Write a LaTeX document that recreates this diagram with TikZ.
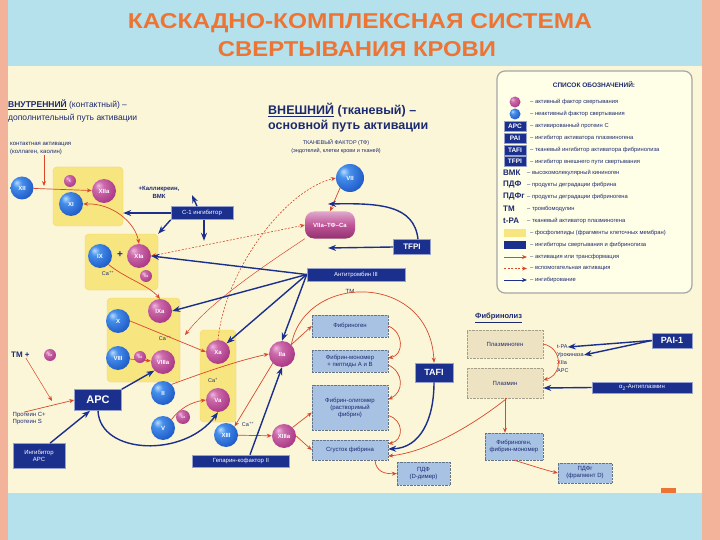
\documentclass[tikz,border=0pt]{standalone}
\usepackage{fontspec}
\setmainfont{Liberation Sans}
\usetikzlibrary{arrows.meta}
\definecolor{navy}{HTML}{1B2F8C}
\definecolor{navytxt}{HTML}{1C2A70}
\definecolor{actc}{HTML}{B8408C}
\definecolor{inactc}{HTML}{2A6FD6}
\definecolor{redl}{HTML}{D9472B}
\definecolor{ylw}{HTML}{F7E680}
\definecolor{fibb}{HTML}{A7C2E3}
\definecolor{plb}{HTML}{EDE3C3}
\definecolor{panel}{HTML}{FBF6D8}
\definecolor{skyb}{HTML}{B4E1EC}
\definecolor{salm}{HTML}{F2B39A}
\definecolor{ttl}{HTML}{EE7434}
\pgfdeclareradialshading{mball}{\pgfpoint{-12bp}{12bp}}{rgb(0bp)=(0.93,0.72,0.87);rgb(10bp)=(0.80,0.42,0.67);rgb(30bp)=(0.68,0.24,0.54);rgb(52bp)=(0.48,0.12,0.37);rgb(70bp)=(0.45,0.10,0.35)}
\pgfdeclareradialshading{bball}{\pgfpoint{-12bp}{12bp}}{rgb(0bp)=(0.72,0.86,1.0);rgb(10bp)=(0.27,0.56,0.92);rgb(30bp)=(0.14,0.38,0.80);rgb(52bp)=(0.07,0.21,0.52);rgb(70bp)=(0.06,0.19,0.48)}
\begin{document}
\begin{tikzpicture}[x=1pt,y=-1pt,
  every node/.style={text=navytxt},
  act/.style={circle, shading=mball, minimum size=24pt, inner sep=0pt, text=white, font=\fontsize{6}{6}\selectfont\bfseries},
  inact/.style={circle, shading=bball, minimum size=24pt, inner sep=0pt, text=white, font=\fontsize{6}{6}\selectfont\bfseries},
  sact/.style={act, minimum size=12pt, font=\fontsize{3.8}{4}\selectfont},
  ibox/.style={rectangle, draw=navy!45!white, line width=0.6pt, fill=navy, text=white, font=\fontsize{6}{7}\selectfont, inner sep=1pt, align=center},
  fbox/.style={rectangle, draw=fibb!60!black, densely dotted, fill=fibb, text=navytxt, font=\fontsize{6}{7}\selectfont, inner sep=1pt, align=center},
  pbox/.style={rectangle, draw=plb!70!black, densely dotted, fill=plb, text=navytxt, font=\fontsize{6}{7}\selectfont, inner sep=1pt, align=center},
  ybox/.style={rectangle, fill=ylw, draw=ylw!80!orange, rounded corners=4pt, inner sep=0pt},
  ra/.style={draw=redl, line width=0.7pt, -{Stealth[length=5pt,width=4pt]}},
  rab/.style={draw=redl, line width=0.7pt, {Stealth[length=5pt,width=4pt]}-{Stealth[length=5pt,width=4pt]}},
  rd/.style={draw=redl, line width=0.6pt, dash pattern=on 2pt off 1.5pt},
  na/.style={draw=navy, line width=1.4pt, -{Stealth[length=8pt,width=6pt]}},
  lbl/.style={font=\fontsize{6}{7}\selectfont, inner sep=0.5pt, align=center},
  legt/.style={anchor=west, font=\fontsize{5.8}{6}\selectfont, inner sep=0pt},
  legab/.style={anchor=west, font=\bfseries\fontsize{8}{8}\selectfont, inner sep=0pt},
  legbox/.style={ibox, minimum width=22pt, minimum height=10pt, font=\bfseries\fontsize{6.5}{7}\selectfont},
  ca/.style={font=\fontsize{5.5}{6}\selectfont, inner sep=0pt}
]
\useasboundingbox (0,0) rectangle (720,540);
\path[fill=salm] (0,0) rectangle (720,540);
\path[fill=skyb] (8,0) rectangle (702,540);
\path[fill=panel] (8,66) rectangle (702,493);
\path[fill=ttl] (661,488) rectangle (676,493);

% title
\node[text=ttl] (t1) at (360,23) {\resizebox{464pt}{15pt}{\bfseries КАСКАДНО-КОМПЛЕКСНАЯ СИСТЕМА}};
\node[text=ttl] (t2) at (357,49) {\resizebox{278pt}{15pt}{\bfseries СВЕРТЫВАНИЯ КРОВИ}};

% legend
\node[draw=gray!70, line width=1.2pt, fill=white!90!yellow, rounded corners=8pt, minimum width=195pt, minimum height=222pt] (leg) at (594.5,182) {};
\node[font=\bfseries\fontsize{6.5}{7}\selectfont] (legT) at (594,85) {СПИСОК ОБОЗНАЧЕНИЙ:};
\node[act, minimum size=11pt] (l1) at (515,102) {};
\node[legt] (l1t) at (530,102) {– активный фактор свертывания};
\node[inact, minimum size=11pt] (l2) at (515,114) {};
\node[legt] (l2t) at (530,114) {– неактивный фактор свертывания};
\node[legbox] (l3) at (515,126) {APC};
\node[legt] (l3t) at (530,126) {– активированный протеин С};
\node[legbox] (l4) at (515,138) {PAI};
\node[legt] (l4t) at (530,138) {– ингибитор активатора плазминогена};
\node[legbox] (l5) at (515,150) {TAFI};
\node[legt] (l5t) at (530,150) {– тканевый ингибитор активатора фибринолиза};
\node[legbox] (l6) at (515,161.5) {TFPI};
\node[legt] (l6t) at (530,161.5) {– ингибитор внешнего пути свертывания};
\node[legab] (l7) at (503,173) {ВМК};
\node[legt] (l7t) at (527,173) {– высокомолекулярный кининоген};
\node[legab] (l8) at (503,185) {ПДФ};
\node[legt] (l8t) at (527,185) {– продукты деградации фибрина};
\node[legab] (l9) at (503,197) {ПДФг};
\node[legt] (l9t) at (527,197) {– продукты деградации фибриногена};
\node[legab] (l10) at (503,209) {ТМ};
\node[legt] (l10t) at (527,209) {– тромбомодулин};
\node[legab] (l11) at (503,221) {t-PA};
\node[legt] (l11t) at (527,221) {– тканевый активатор плазминогена};
\node[fill=ylw, minimum width=22pt, minimum height=8pt, inner sep=0pt] (l12) at (515,233) {};
\node[legt] (l12t) at (530,233) {– фосфолипиды (фрагменты клеточных мембран)};
\node[fill=navy, minimum width=22pt, minimum height=8pt, inner sep=0pt] (l13) at (515,245) {};
\node[legt] (l13t) at (530,245) {– ингибиторы свертывания и фибринолиза};
\coordinate (l14) at (504,257);
\draw[ra, line width=1pt] (l14) -- ++(23,0);
\node[legt] (l14t) at (530,257) {– активация или трансформация};
\coordinate (l15) at (504,268.5);
\draw[rd, line width=0.9pt, -{Stealth[length=5pt,width=4pt]}] (l15) -- ++(23,0);
\node[legt] (l15t) at (530,268.5) {– вспомогательная активация};
\coordinate (l16) at (504,280);
\draw[na, line width=1pt, -{Stealth[length=5pt,width=4pt]}] (l16) -- ++(23,0);
\node[legt] (l16t) at (530,280) {– ингибирование};

% headers
\node[anchor=west, font=\fontsize{8.5}{9}\selectfont, inner sep=0pt] (hL1) at (8,105) {\textbf{\underline{ВНУТРЕННИЙ}} (контактный) –};
\node[anchor=west, font=\fontsize{8.5}{9}\selectfont, inner sep=0pt] (hL2) at (8,118) {дополнительный путь активации};
\node[anchor=west, font=\fontsize{6}{8}\selectfont, align=left, inner sep=0pt] (contact) at (10,149) {контактная активация\\(коллаген, каолин)};
\node[anchor=west, font=\bfseries\fontsize{12.5}{13}\selectfont, inner sep=0pt] (hR1) at (268,110) {\underline{ВНЕШНИЙ} (тканевый) –};
\node[anchor=west, font=\bfseries\fontsize{12.5}{13}\selectfont, inner sep=0pt] (hR2) at (268,126) {основной путь активации};
\node[lbl, font=\fontsize{5.5}{8}\selectfont] (tf) at (336,147) {ТКАНЕВЫЙ ФАКТОР (ТФ)\\(эндотелий, клетки крови и тканей)};
\node[lbl, font=\bfseries\fontsize{6}{8}\selectfont] (kall) at (159,192) {+Калликреин,\\ВМК};

% phospholipid boxes
\node[ybox, minimum width=70pt, minimum height=59pt] (box1) at (88,196.5) {};
\node[ybox, minimum width=73pt, minimum height=56pt] (box2) at (121.5,262) {};
\node[ybox, minimum width=73pt, minimum height=84pt] (box3) at (143.5,340) {};
\node[ybox, minimum width=36pt, minimum height=92pt] (box4) at (218,376) {};

% factors
\node[inact, minimum size=23pt] (xii) at (22,188) {XII};
\node[act] (xiia) at (104,191) {XIIa};
\node[inact] (xi) at (71,204) {XI};
\node[inact] (ix) at (100,256) {IX};
\node[act] (xia) at (139,256) {XIa};
\node[font=\bfseries\fontsize{10}{10}\selectfont] (plus) at (120,255) {+};
\node[ca] (ca1) at (108,273) {Ca\textsuperscript{++}};
\node[act] (ixa) at (160,311) {IXa};
\node[inact] (x) at (118,321) {X};
\node[ca] (ca2) at (165,338) {Ca\textsuperscript{++}};
\node[inact] (viii) at (118,358) {VIII};
\node[act] (viiia) at (163,362) {VIIIa};
\node[act] (xa) at (218,352) {Xa};
\node[ca] (ca3) at (213,380) {Ca\textsuperscript{+}};
\node[act] (va) at (218,400) {Va};
\node[inact] (ii) at (163,393) {II};
\node[inact] (v) at (163,428) {V};
\node[inact] (xiii) at (226,435) {XIII};
\node[ca] (ca4) at (248,424) {Ca\textsuperscript{++}};
\node[act] (xiiia) at (284,436) {XIIIa};
\node[act, minimum size=26pt] (iia) at (282,354) {IIa};
\node[inact, minimum size=28pt] (vii) at (350,178) {VII};
\node[rectangle, rounded corners=9pt, top color=actc!45!white, bottom color=actc!80!black, middle color=actc!90!white, text=white, font=\fontsize{6}{6}\selectfont\bfseries, minimum width=50pt, minimum height=27pt, inner sep=0pt] (viitf) at (330,225) {VIIa–ТФ–Ca};

% left bottom
\node[anchor=west, font=\bfseries\fontsize{8}{8}\selectfont, inner sep=0pt] (tm) at (11,355) {ТМ +};
\node[lbl, anchor=west, align=left, font=\fontsize{6}{7}\selectfont] (protC) at (12,419) {Протеин С+\\Протеин S};
\node[ibox, minimum width=47pt, minimum height=21pt, font=\bfseries\fontsize{11}{11}\selectfont] (apc) at (98,400) {APC};
\node[ibox, minimum width=52pt, minimum height=25pt] (iapc) at (39,456) {Ингибитор\\APC};
\node[ibox, minimum width=97pt, minimum height=12pt] (hep) at (241,461) {Гепарин-кофактор II};
\node[ibox, minimum width=62pt, minimum height=13pt] (c1) at (202,213) {C-1 ингибитор};
\node[ibox, minimum width=37pt, minimum height=15pt, font=\bfseries\fontsize{8}{8}\selectfont] (tfpi) at (412,247) {TFPI};
\node[ibox, minimum width=98pt, minimum height=13pt] (at3) at (356,274.5) {Антитромбин III};
\node[ibox, minimum width=38pt, minimum height=19pt, font=\bfseries\fontsize{9}{9}\selectfont] (tafi) at (434,372.5) {TAFI};
\node[lbl] (tmlbl) at (350,291) {ТМ};

% fibrin
\node[fbox, minimum width=76pt, minimum height=22pt] (fibg) at (350,326) {Фибриноген};
\node[fbox, minimum width=76pt, minimum height=22pt] (mono) at (350,361) {Фибрин-мономер\\+ пептиды A и B};
\node[fbox, minimum width=76pt, minimum height=45pt] (olig) at (350,407.5) {Фибрин-олигомер\\(растворимый\\фибрин)};
\node[fbox, minimum width=76pt, minimum height=20pt] (clot) at (350,450) {Сгусток фибрина};
\node[fbox, minimum width=53pt, minimum height=23pt] (ddim) at (423.5,473.5) {ПДФ\\(D-димер)};

% fibrinolysis
\node[anchor=west, font=\bfseries\fontsize{7.5}{8}\selectfont, inner sep=0pt] (fl) at (475,318) {\underline{Фибринолиз}};
\node[pbox, minimum width=76pt, minimum height=28pt] (plg) at (505,344) {Плазминоген};
\node[pbox, minimum width=76pt, minimum height=30pt] (plm) at (505,383) {Плазмин};
\node[legt, font=\fontsize{5.5}{6}\selectfont] (tpa) at (557,347) {t-PA};
\node[legt, font=\fontsize{5.5}{6}\selectfont] (uro) at (557,355) {Урокиназа};
\node[legt, font=\fontsize{5.5}{6}\selectfont] (xiia2) at (557,363) {XIIa};
\node[legt, font=\fontsize{5.5}{6}\selectfont] (apc2) at (557,371) {APC};
\node[ibox, minimum width=40pt, minimum height=15pt, font=\bfseries\fontsize{9}{9}\selectfont] (pai) at (672,340.5) {PAI-1};
\node[ibox, minimum width=100pt, minimum height=11pt] (a2ap) at (642,387.5) {α\textsubscript{2}-Антиплазмин};
\node[fbox, minimum width=58pt, minimum height=27pt] (fmono) at (514,446.5) {Фибриноген,\\фибрин-мономер};
\node[fbox, minimum width=54pt, minimum height=20pt] (pdfg) at (585,473) {ПДФг\\(фрагмент D)};

% red activation arrows
\draw[ra] (contact.south -| 44,0) -- (44,186);
\draw[ra] (xii) -- (xiia);
\draw[rab] (xi.east) .. controls (112,203) and (135,222) .. (xia.north);
\draw[ra] (ix.south east) .. controls (125,278) and (148,285) .. (ixa.north);
\draw[ra] (x.east) -- (xa.west);
\draw[ra] (viii) -- (viiia);
\draw[ra] (ii.north east) .. controls (205,372) and (240,360) .. (iia.west);
\draw[ra] (v.north east) .. controls (180,408) and (192,402) .. (va.west);
\draw[ra] (iia.south west) -- (xiii.north east);
\draw[ra] (xiii) -- (xiiia);
\draw[ra] (iia.north east) -- (fibg.west);
\draw[ra] (fibg.east) .. controls (404,332) and (404,355) .. ([yshift=3pt]mono.east);
\draw[ra] ([yshift=-4pt]mono.east) .. controls (404,372) and (404,392) .. ([yshift=8pt]olig.east);
\draw[ra] ([yshift=-8pt]olig.east) .. controls (404,420) and (404,440) .. ([yshift=6pt]clot.east);
\draw[ra] (xiiia.north east) -- ([yshift=-5pt]olig.west);
\draw[ra] (xiiia.east) -- (clot.west);
\draw[ra] ([xshift=25pt]clot.south) .. controls (376,472) and (385,474) .. (ddim.west);
\draw[ra] (iia.north east) .. controls (305,272) and (430,272) .. (tafi.north);
\draw[ra] (plg.east) .. controls (563,348) and (563,375) .. ([yshift=3pt]plm.east);
\draw[ra] (plm.south) -- (plm.south |- fmono.north);
\draw[ra] (fmono.south) .. controls (530,465) and (545,470) .. (pdfg.west);
\draw[ra] ([xshift=2pt]plm.south) .. controls (480,420) and (430,452) .. ([yshift=-6pt]clot.east);
\draw[ra] (vii.south west) -- (viitf.north);
\coordinate (b3e) at (185,335);
\draw[ra, line width=0.5pt] (viitf.south west) .. controls (270,262) and (212,300) .. (b3e);
\draw[ra] ([xshift=-5pt]protC.north) -- (apc.west);
\coordinate (tmj) at (52,401);
\draw[ra, line width=0.5pt] ([xshift=-4pt]tm.south east) -- (tmj);
% dashed auxiliary
\draw[rd, {Stealth[length=5pt,width=4pt]}-{Stealth[length=5pt,width=4pt]}] (xia.east) -- (viitf.west);
\draw[rd, -{Stealth[length=5pt,width=4pt]}] (xa.north) .. controls (225,270) and (285,190) .. (vii.west);

% navy inhibition arrows
\draw[na] (c1.west) -- (c1.west -| box1.east);
\coordinate (kallE) at (192,195);
\draw[na] ([xshift=-5pt]c1.north) -- (kallE);
\draw[na] (c1.south west) -- (box2.north east);
\draw[na] ([xshift=2pt]c1.south) -- ++(0,21);
\coordinate (tfpiA) at (328,248);
\draw[na] (tfpi.west) -- (tfpiA);
\coordinate (tfpiB) at (328,204);
\draw[na] ([xshift=6pt]tfpi.north) .. controls (414,205) and (380,203) .. (tfpiB);
\draw[na] (at3.west) -- (xia.east);
\draw[na] (at3.west) -- (ixa.east);
\draw[na] (at3.west) -- (xa.north east);
\draw[na] (at3.west) -- (iia.north);
\draw[na] ([xshift=11pt]iapc.north) -- ([xshift=-8pt]apc.south);
\draw[na] (apc.north east) -- (viiia.south west);
\draw[na] (apc.south) .. controls (100,455) and (185,458) .. (va.south);
\draw[na] ([xshift=9pt]hep.north) -- (iia.south);
\draw[na] (tafi.south) .. controls (434,420) and (420,448) .. ([yshift=1pt]clot.east);
\draw[na] (pai.west) -- (tpa.east);
\draw[na] (pai.west) -- (uro.east);
\draw[na] (a2ap.west) -- ([yshift=-5pt]plm.east);

% small active factors (on top)
\node[sact] (sk1) at (70,181) {К};
\node[sact] (sk2) at (146,276) {IIa};
\node[sact] (sk3) at (140,357) {IIa};
\node[sact, minimum size=14pt] (sk4) at (183,417) {IIa};
\node[sact] (tmIIa) at (50,355) {IIa};
\end{tikzpicture}
\end{document}
